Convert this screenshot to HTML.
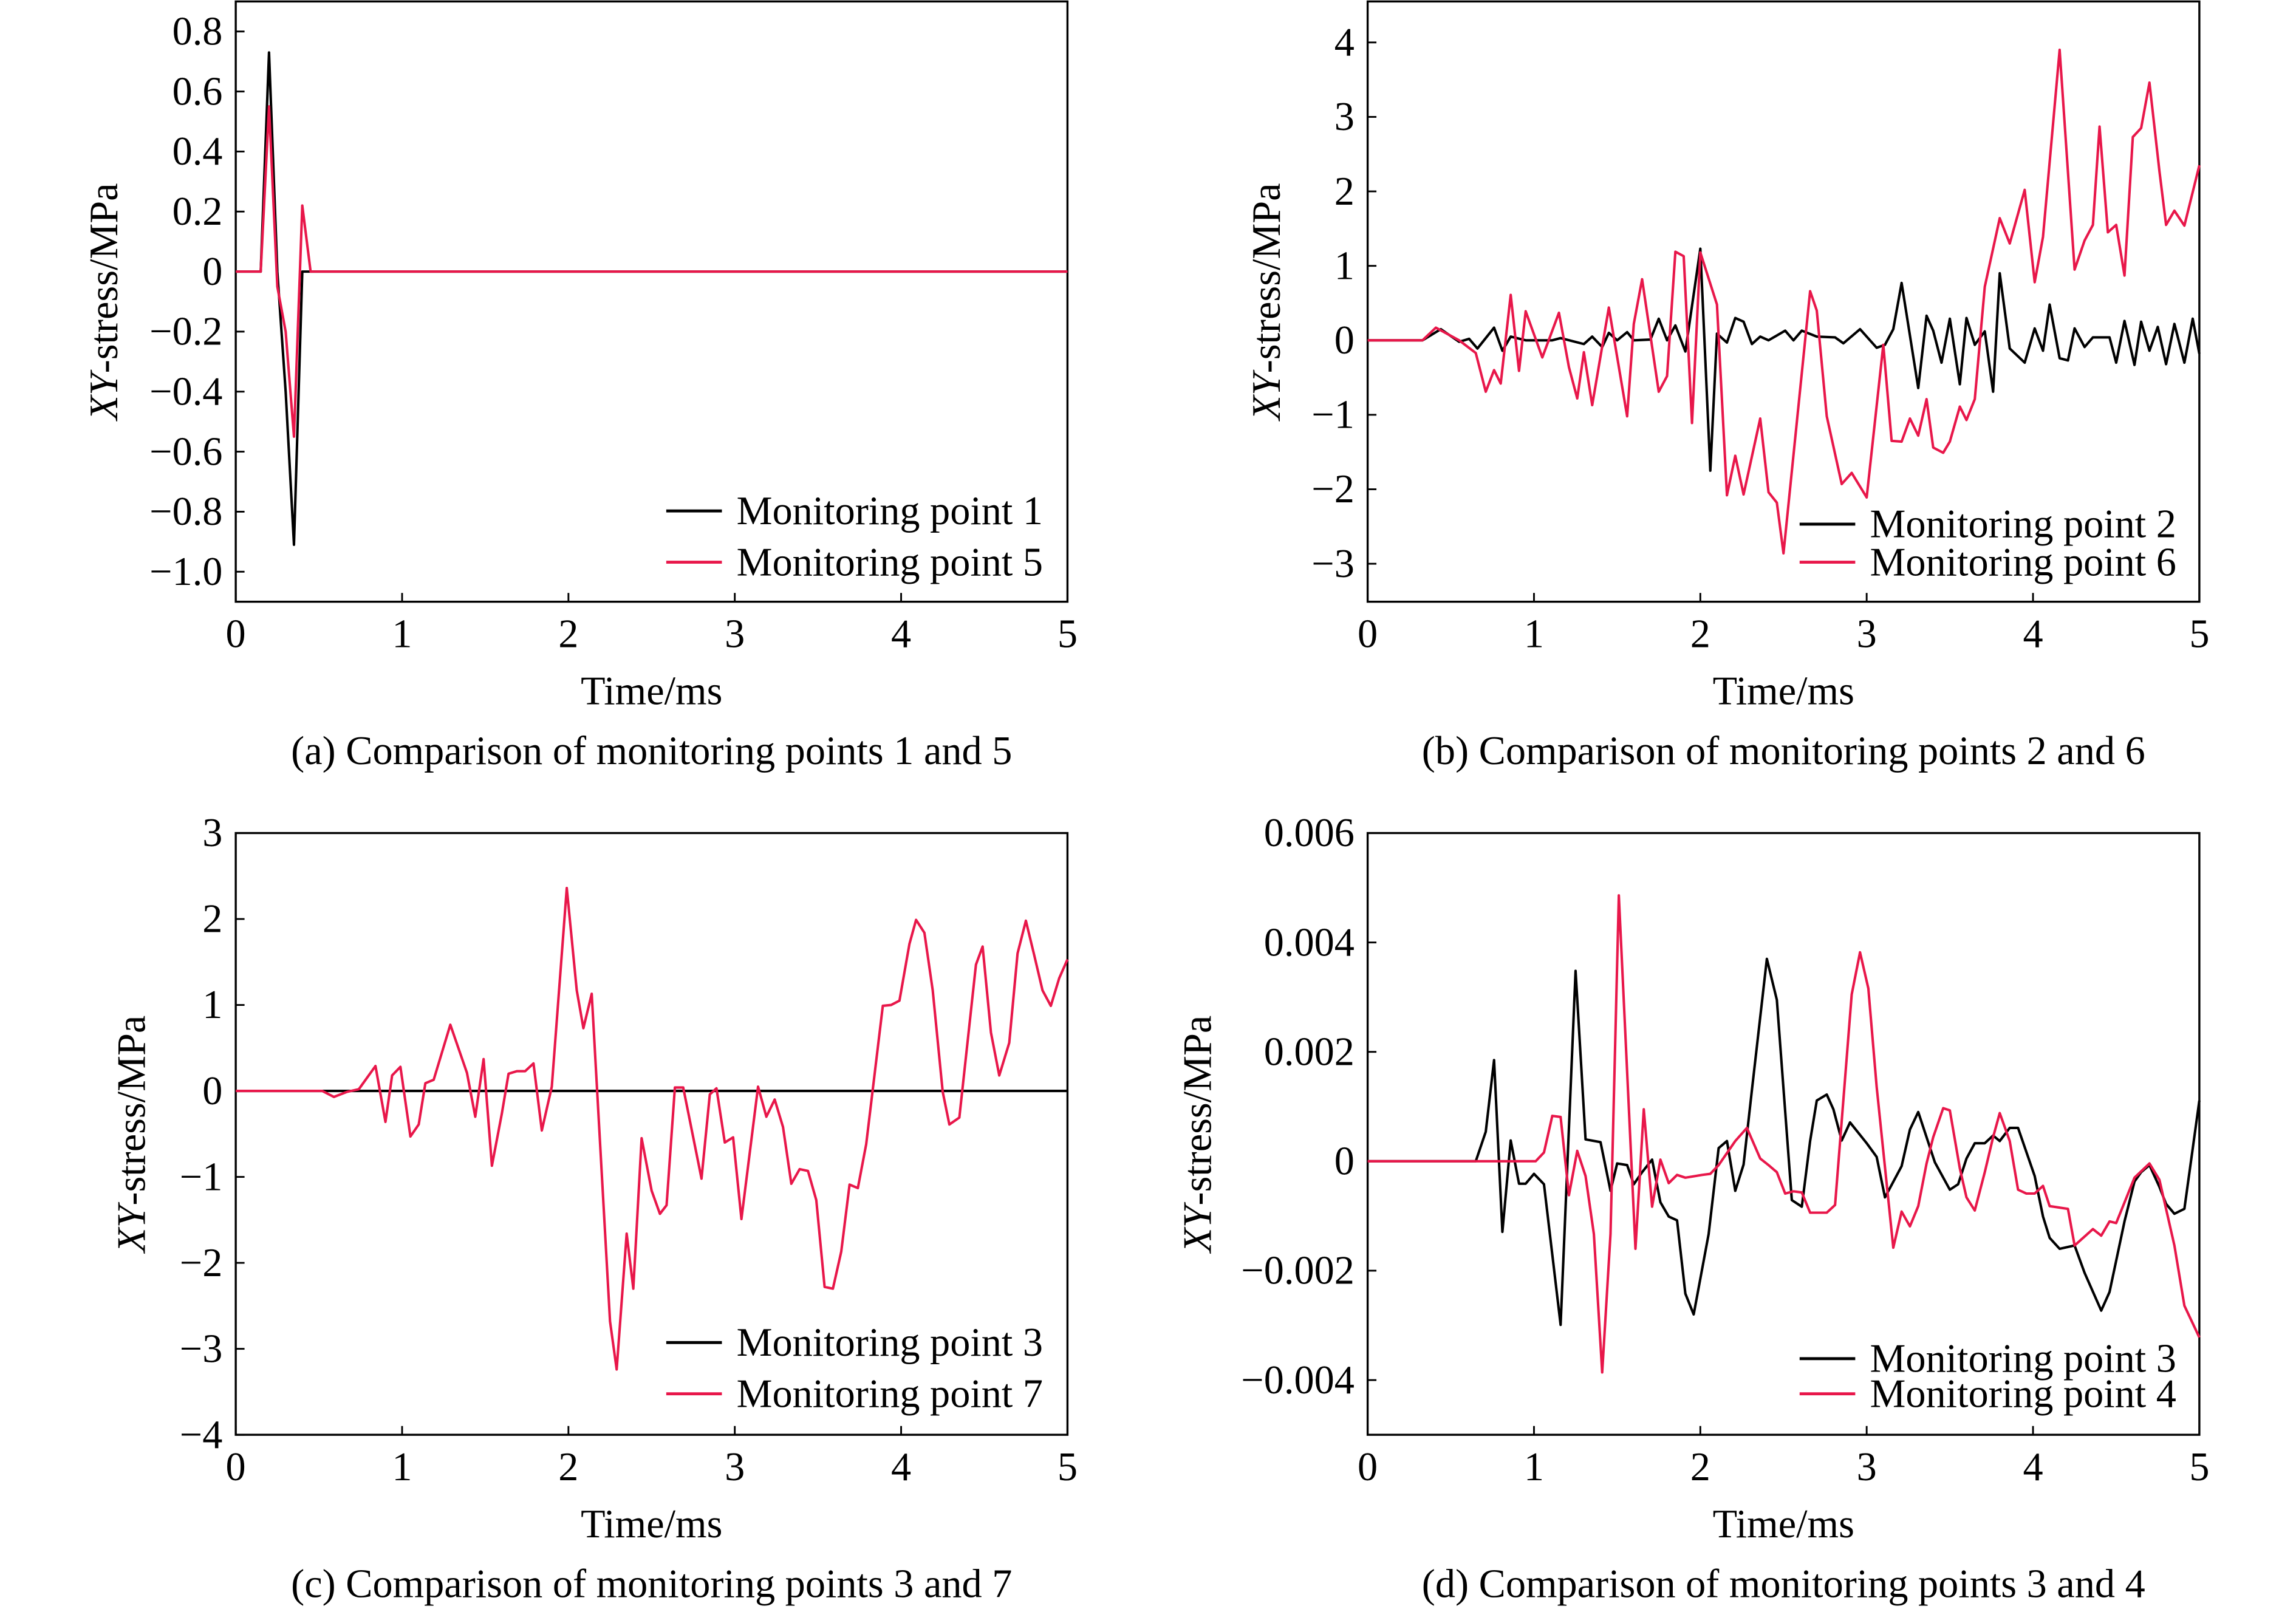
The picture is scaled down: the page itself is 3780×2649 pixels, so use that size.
<!DOCTYPE html>
<html><head><meta charset="utf-8"><style>
html,body{margin:0;padding:0;background:#fff;}
svg{display:block;font-family:"Liberation Serif",serif;}
</style></head><body>
<svg id="fig" width="3780" height="2649" viewBox="0 0 1568 1099" preserveAspectRatio="none" xmlns="http://www.w3.org/2000/svg"></svg>
<script>
const xTicks=[0,1,2,3,4,5];
const aYTicks=[0.8,0.6,0.4,0.2,0,-0.2,-0.4,-0.6,-0.8,-1.0];
const aYLabels=["0.8","0.6","0.4","0.2","0","\u22120.2","\u22120.4","\u22120.6","\u22120.8","\u22121.0"];
const a1T=[0,0.15,0.2,0.25,0.3,0.35,0.4,5];
const a1V=[0,0,0.73,0,-0.4,-0.91,0,0];
const a5T=[0,0.15,0.2,0.25,0.3,0.35,0.4,0.45,5];
const a5V=[0,0,0.55,-0.05,-0.2,-0.55,0.22,0,0];

const bYTicks=[4,3,2,1,0,-1,-2,-3];
const bYLabels=["4","3","2","1","0","\u22121","\u22122","\u22123"];
const b2T=[0,0.33,0.44,0.55,0.61,0.66,0.76,0.81,0.86,0.95,1.11,1.16,1.30,1.35,1.41,1.45,1.50,1.56,1.60,1.70,1.75,1.80,1.85,1.91,2.0,2.06,2.10,2.16,2.21,2.26,2.31,2.36,2.41,2.51,2.56,2.61,2.70,2.81,2.86,2.96,3.06,3.11,3.16,3.21,3.31,3.36,3.40,3.45,3.50,3.56,3.60,3.65,3.71,3.76,3.80,3.86,3.95,4.01,4.06,4.10,4.16,4.21,4.25,4.31,4.36,4.46,4.50,4.55,4.61,4.65,4.70,4.75,4.80,4.85,4.91,4.96,5.0];
const b2V=[0,0,0.15,-0.02,0.02,-0.11,0.17,-0.14,0.05,0,0,0.03,-0.05,0.05,-0.09,0.10,0,0.11,0,0.01,0.29,0,0.20,-0.15,1.23,-1.75,0.09,-0.03,0.30,0.25,-0.05,0.05,0,0.13,0,0.13,0.05,0.04,-0.04,0.15,-0.10,-0.06,0.15,0.77,-0.64,0.33,0.13,-0.30,0.29,-0.59,0.30,-0.06,0.12,-0.69,0.90,-0.11,-0.30,0.16,-0.14,0.48,-0.24,-0.27,0.16,-0.09,0.04,0.04,-0.30,0.26,-0.33,0.25,-0.14,0.18,-0.32,0.22,-0.30,0.29,-0.18];
const b6T=[0,0.33,0.41,0.55,0.65,0.71,0.76,0.80,0.86,0.91,0.95,1.05,1.15,1.21,1.26,1.30,1.35,1.45,1.56,1.60,1.65,1.75,1.80,1.85,1.90,1.95,2.0,2.1,2.16,2.21,2.26,2.36,2.41,2.46,2.50,2.66,2.70,2.76,2.85,2.91,3.0,3.10,3.15,3.21,3.26,3.31,3.36,3.40,3.46,3.50,3.56,3.60,3.65,3.71,3.80,3.86,3.95,4.01,4.06,4.16,4.25,4.31,4.36,4.40,4.45,4.50,4.55,4.60,4.65,4.70,4.76,4.80,4.85,4.91,5.0];
const b6V=[0,0,0.17,0,-0.17,-0.69,-0.40,-0.58,0.61,-0.41,0.39,-0.23,0.37,-0.36,-0.78,-0.16,-0.87,0.44,-1.02,0.22,0.82,-0.69,-0.48,1.19,1.13,-1.11,1.18,0.48,-2.08,-1.55,-2.07,-1.05,-2.04,-2.18,-2.86,0.66,0.40,-1.02,-1.93,-1.78,-2.11,-0.06,-1.35,-1.36,-1.05,-1.28,-0.79,-1.44,-1.51,-1.36,-0.89,-1.07,-0.79,0.72,1.64,1.30,2.02,0.78,1.39,3.90,0.95,1.34,1.55,2.87,1.45,1.55,0.87,2.73,2.85,3.46,2.27,1.55,1.74,1.54,2.35];

const cYTicks=[3,2,1,0,-1,-2,-3,-4];
const cYLabels=["3","2","1","0","\u22121","\u22122","\u22123","\u22124"];
const c3T=[0,5];
const c3V=[0,0];
const c7T=[0,0.52,0.59,0.67,0.74,0.84,0.90,0.94,0.99,1.05,1.10,1.14,1.19,1.29,1.39,1.44,1.49,1.54,1.60,1.64,1.69,1.74,1.79,1.84,1.90,1.99,2.05,2.09,2.14,2.25,2.29,2.35,2.39,2.44,2.50,2.55,2.59,2.64,2.69,2.80,2.85,2.89,2.94,2.99,3.04,3.14,3.19,3.24,3.29,3.34,3.39,3.44,3.49,3.54,3.59,3.64,3.69,3.74,3.79,3.89,3.94,3.99,4.05,4.09,4.14,4.19,4.25,4.29,4.35,4.45,4.49,4.54,4.59,4.65,4.70,4.75,4.80,4.85,4.90,4.95,5.0];
const c7V=[0,0,-0.07,-0.01,0.02,0.29,-0.36,0.18,0.28,-0.53,-0.39,0.09,0.13,0.77,0.21,-0.30,0.37,-0.87,-0.26,0.20,0.23,0.23,0.32,-0.46,0.05,2.36,1.17,0.73,1.13,-2.68,-3.24,-1.66,-2.30,-0.55,-1.16,-1.43,-1.33,0.04,0.04,-1.02,-0.04,0.03,-0.60,-0.54,-1.49,0.05,-0.30,-0.10,-0.42,-1.08,-0.91,-0.93,-1.27,-2.28,-2.30,-1.87,-1.09,-1.13,-0.62,0.99,1.00,1.05,1.71,1.99,1.84,1.17,-0.01,-0.39,-0.31,1.47,1.68,0.68,0.18,0.56,1.60,1.98,1.58,1.17,0.99,1.31,1.53];

const dYTicks=[0.006,0.004,0.002,0,-0.002,-0.004];
const dYLabels=["0.006","0.004","0.002","0","\u22120.002","\u22120.004"];
const d3T=[0,0.65,0.71,0.76,0.81,0.86,0.91,0.95,1.0,1.06,1.16,1.25,1.31,1.40,1.46,1.50,1.56,1.60,1.65,1.71,1.76,1.81,1.86,1.91,1.96,2.05,2.11,2.16,2.21,2.26,2.31,2.40,2.46,2.55,2.61,2.66,2.70,2.76,2.80,2.85,2.90,3.0,3.06,3.11,3.21,3.26,3.31,3.41,3.50,3.55,3.60,3.65,3.71,3.76,3.80,3.86,3.91,4.01,4.06,4.10,4.16,4.25,4.31,4.41,4.46,4.55,4.61,4.65,4.70,4.76,4.80,4.85,4.91,5.0];
const d3V=[0,0,0.54,1.85,-1.29,0.38,-0.41,-0.41,-0.23,-0.42,-2.99,3.48,0.40,0.35,-0.54,-0.04,-0.07,-0.42,-0.20,0.03,-0.75,-1.01,-1.08,-2.42,-2.80,-1.33,0.24,0.37,-0.54,-0.06,1.30,3.70,2.95,-0.71,-0.83,0.37,1.11,1.22,0.95,0.38,0.71,0.33,0.08,-0.66,-0.09,0.58,0.90,-0.02,-0.52,-0.42,0.05,0.33,0.33,0.47,0.37,0.61,0.61,-0.27,-1.01,-1.40,-1.60,-1.54,-2.04,-2.73,-2.39,-1.10,-0.37,-0.20,-0.07,-0.47,-0.78,-0.96,-0.87,1.11];
const d4T=[0,1.01,1.06,1.11,1.16,1.21,1.26,1.31,1.36,1.41,1.46,1.51,1.61,1.66,1.71,1.76,1.81,1.86,1.91,2.01,2.06,2.11,2.21,2.28,2.36,2.41,2.46,2.51,2.56,2.61,2.66,2.76,2.81,2.91,2.96,3.01,3.06,3.16,3.21,3.26,3.31,3.36,3.40,3.46,3.50,3.56,3.60,3.65,3.71,3.76,3.80,3.86,3.91,3.96,4.01,4.06,4.10,4.21,4.25,4.36,4.41,4.46,4.50,4.61,4.70,4.76,4.85,4.91,5.0];
const d4V=[0,0,0.16,0.83,0.81,-0.62,0.19,-0.27,-1.33,-3.86,-1.33,4.86,-1.60,0.95,-0.83,0.03,-0.40,-0.25,-0.30,-0.25,-0.23,-0.07,0.37,0.61,0.05,-0.07,-0.20,-0.59,-0.55,-0.57,-0.94,-0.94,-0.80,3.05,3.82,3.16,1.36,-1.58,-0.92,-1.19,-0.82,-0.04,0.44,0.97,0.93,-0.13,-0.66,-0.90,-0.20,0.44,0.88,0.37,-0.52,-0.59,-0.59,-0.45,-0.82,-0.87,-1.54,-1.24,-1.36,-1.10,-1.13,-0.30,-0.04,-0.34,-1.54,-2.64,-3.22];

const NS="http://www.w3.org/2000/svg";
const svg=document.getElementById('fig');
const FS=27.5;
function mk(tag,attrs,parent,text){const e=document.createElementNS(NS,tag);for(const k in attrs)e.setAttribute(k,attrs[k]);if(text!==undefined)e.textContent=text;(parent||svg).appendChild(e);return e;}

function panel(cfg){
  const g=mk('g',{});
  
  
  const {x0,x1,y0,y1,ymin,ymax}=cfg;
  const sx=t=>x0+(t/5)*(x1-x0);
  const sy=v=>y1-(v-ymin)/(ymax-ymin)*(y1-y0);
  const box=mk('rect',{x:x0,y:y0,width:x1-x0,height:y1-y0,fill:'none',stroke:'#000','stroke-width':1.4},g);
  
  
  xTicks.forEach(t=>{
    const l=mk('line',{x1:sx(t),x2:sx(t),y1:y1,y2:y1-6,stroke:'#000','stroke-width':1.2},g);
    
    
    const tx=mk('text',{x:sx(t),y:y1+31,'font-size':FS,'text-anchor':'middle'},g,String(t));
    
    
  });
  cfg.yTicks.forEach((v,i)=>{
    const l=mk('line',{x1:x0,x2:x0+6,y1:sy(v),y2:sy(v),stroke:'#000','stroke-width':1.2},g);
    
    
    const tx=mk('text',{x:x0-9,y:sy(v)+9,'font-size':FS,'text-anchor':'end'},g,cfg.yLabels[i]);
    
    
  });
  const xt=mk('text',{x:(x0+x1)/2,y:y1+70,'font-size':FS,'text-anchor':'middle'},g,'Time/ms');
  
  
  const cy=(y0+y1)/2;
  const yt=mk('text',{x:cfg.ytx,y:cy,'font-size':FS,'text-anchor':'middle',transform:`rotate(-90 ${cfg.ytx} ${cy})`},g);
  
  
  mk('tspan',{'font-style':'italic'},yt,'XY');
  mk('tspan',{},yt,'-stress/MPa');
  const cap=mk('text',{x:(x0+x1)/2,y:y1+111,'font-size':FS,'text-anchor':'middle'},g,cfg.caption);
  
  
  cfg.series.forEach((s,i)=>{
    const pts=s.t.map((t,j)=>sx(t).toFixed(2)+','+sy(s.v[j]*(cfg.vs||1)).toFixed(2)).join(' ');
    const p=mk('polyline',{points:pts,fill:'none',stroke:s.color,'stroke-width':1.7,'stroke-linejoin':'round'},g);
    
    
  });
  cfg.series.forEach((s,i)=>{
    const ly=cfg.legY[i];
    const lg=mk('g',{},g);
    
    
    mk('line',{x1:cfg.legX,x2:cfg.legX+38,y1:ly,y2:ly,stroke:s.color,'stroke-width':2},lg);
    mk('text',{x:cfg.legX+48,y:ly+9,'font-size':FS},lg,s.label);
  });
}
panel({name:'panel-a',x0:161,x1:729,y0:1,y1:411,ymin:-1.1,ymax:0.9,yTicks:aYTicks,yLabels:aYLabels,ytx:80,caption:'(a) Comparison of monitoring points 1 and 5',
  series:[{t:a1T,v:a1V,color:'#000',label:'Monitoring point 1'},{t:a5T,v:a5V,color:'#e8174a',label:'Monitoring point 5'}],legX:455,legY:[349,384]});
panel({name:'panel-b',x0:934,x1:1502,y0:1,y1:411,ymin:-3.51,ymax:4.55,yTicks:bYTicks,yLabels:bYLabels,ytx:874,caption:'(b) Comparison of monitoring points 2 and 6',
  series:[{t:b2T,v:b2V,color:'#000',label:'Monitoring point 2'},{t:b6T,v:b6V,color:'#e8174a',label:'Monitoring point 6'}],legX:1229,legY:[358,384]});
panel({name:'panel-c',x0:161,x1:729,y0:569,y1:980,ymin:-4,ymax:3,yTicks:cYTicks,yLabels:cYLabels,ytx:99,caption:'(c) Comparison of monitoring points 3 and 7',
  series:[{t:c3T,v:c3V,color:'#000',label:'Monitoring point 3'},{t:c7T,v:c7V,color:'#e8174a',label:'Monitoring point 7'}],legX:455,legY:[917,952]});
panel({name:'panel-d',x0:934,x1:1502,y0:569,y1:980,ymin:-0.005,ymax:0.006,vs:0.001,yTicks:dYTicks,yLabels:dYLabels,ytx:827,caption:'(d) Comparison of monitoring points 3 and 4',
  series:[{t:d3T,v:d3V,color:'#000',label:'Monitoring point 3'},{t:d4T,v:d4V,color:'#e8174a',label:'Monitoring point 4'}],legX:1229,legY:[928,952]});
</script>
</body></html>
